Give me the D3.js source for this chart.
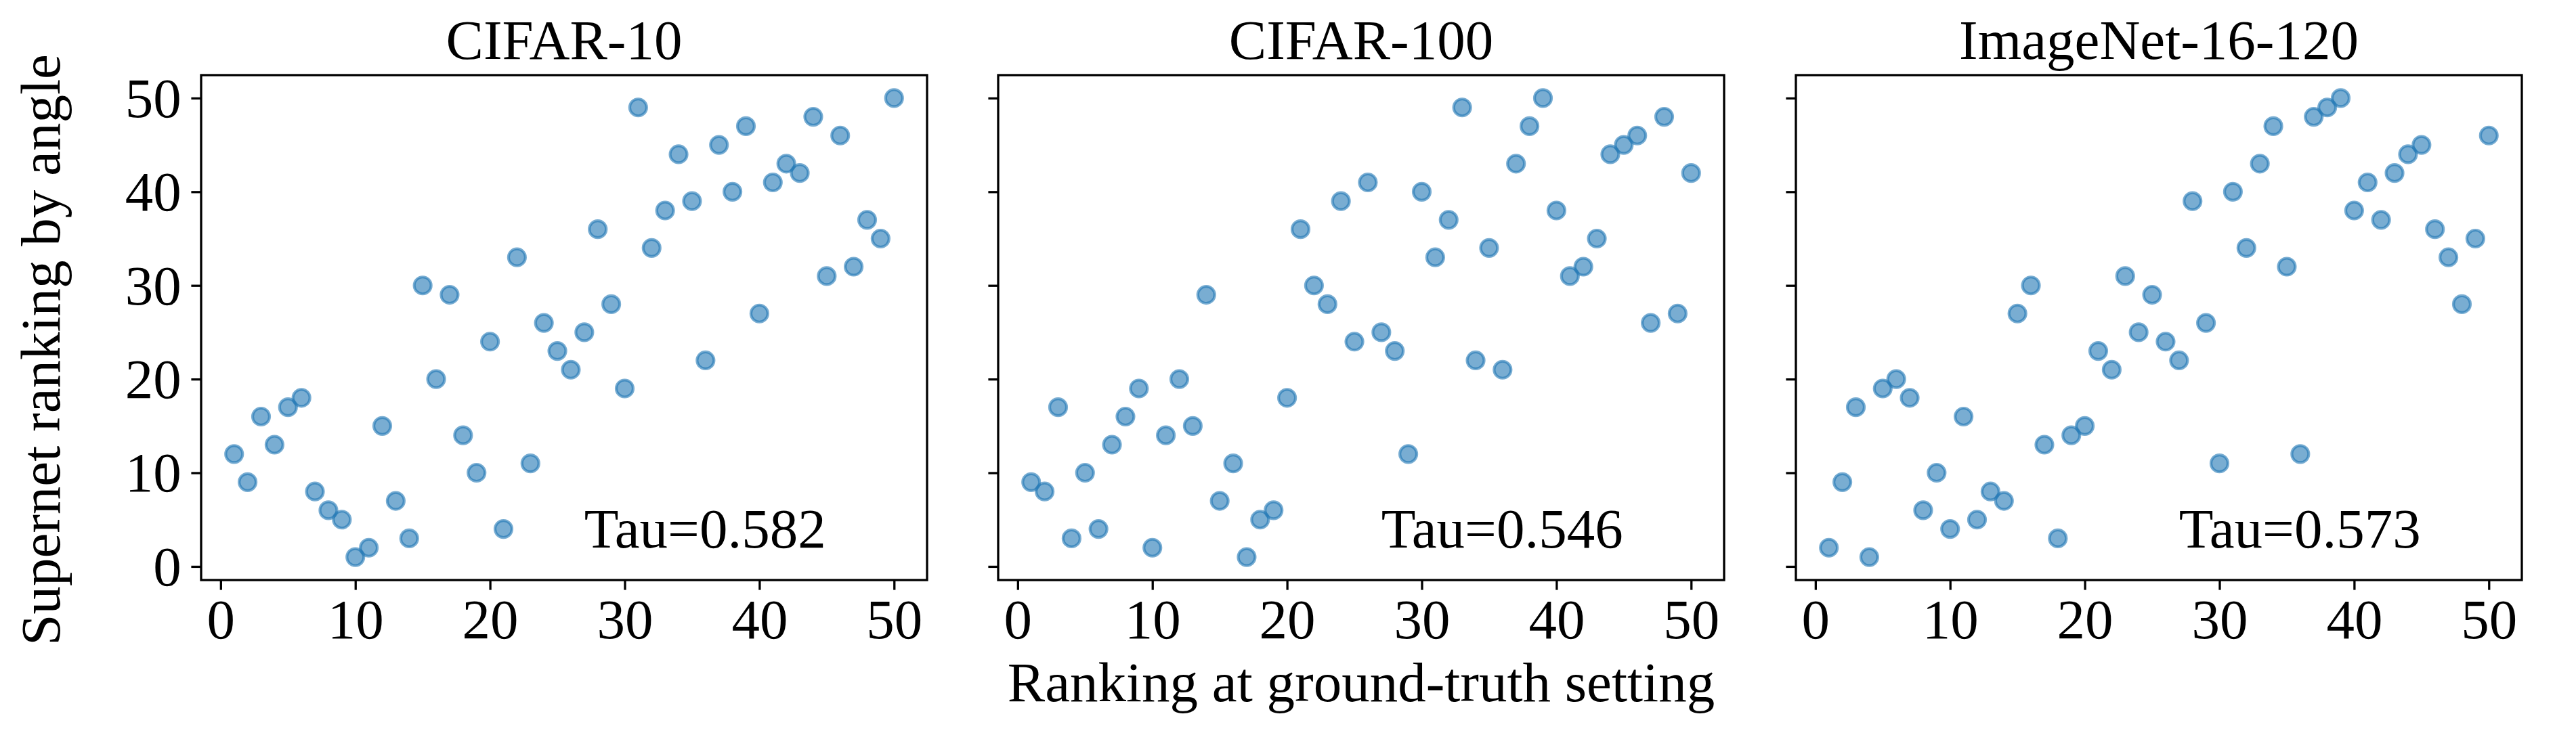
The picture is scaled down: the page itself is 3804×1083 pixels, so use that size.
<!DOCTYPE html>
<html>
<head>
<meta charset="utf-8">
<script src="https://cdn.jsdelivr.net/npm/d3@7"></script>
<style>
  body { margin: 0; background: #fff; }
  text { font-family: "Liberation Serif", "Times New Roman", serif; fill: #000; }
</style>
</head>
<body>
<div id="plotRegi"></div>
<script>
// ground-truth ranking (x) shared by every panel
var gtRank = [1, 2, 3, 4, 5, 6, 7, 8, 9, 10, 11, 12, 13, 14, 15, 16, 17, 18, 19, 20,
              21, 22, 23, 24, 25, 26, 27, 28, 29, 30, 31, 32, 33, 34, 35, 36, 37, 38, 39, 40,
              41, 42, 43, 44, 45, 46, 47, 48, 49, 50]

// supernet ranking by angle (y), one list per dataset
var cifar10Rank = [12, 9, 16, 13, 17, 18, 8, 6, 5, 1, 2, 15, 7, 3, 30, 20, 29, 14, 10, 24,
                   4, 33, 11, 26, 23, 21, 25, 36, 28, 19, 49, 34, 38, 44, 39, 22, 45, 40, 47, 27,
                   41, 43, 42, 48, 31, 46, 32, 37, 35, 50]
var cifar100Rank = [9, 8, 17, 3, 10, 4, 13, 16, 19, 2, 14, 20, 15, 29, 7, 11, 1, 5, 6, 18,
                    36, 30, 28, 39, 24, 41, 25, 23, 12, 40, 33, 37, 49, 22, 34, 21, 43, 47, 50, 38,
                    31, 32, 35, 44, 45, 46, 26, 48, 27, 42]
var imagenetRank = [2, 9, 17, 1, 19, 20, 18, 6, 10, 4, 16, 5, 8, 7, 27, 30, 13, 3, 14, 15,
                    23, 21, 31, 25, 29, 24, 22, 39, 26, 11, 40, 34, 43, 47, 32, 12, 48, 49, 50, 38,
                    41, 37, 42, 44, 45, 36, 33, 28, 35, 46]

var titles = ["CIFAR-10", "CIFAR-100", "ImageNet-16-120"]
var taus = ["Tau=0.582", "Tau=0.546", "Tau=0.573"]
var tickVals = [0, 10, 20, 30, 40, 50]

var panels = [cifar10Rank, cifar100Rank, imagenetRank]

var W = 3804, H = 1083
var fontSize = 83
var panelLeft = [297, 1474, 2652],
    panelW = 1072,
    plotTop = 111,
    plotBottom = 857
var tickLen = 14.6, spineW = 3.3
var serif = '"Liberation Serif", "Times New Roman", serif'

var svg = d3.select("#plotRegi")
    .append("svg")
    .attr("width", W)
    .attr("height", H)

svg.append("rect").attr("width", W).attr("height", H).attr("fill", "#fff")

panels.forEach(function (ys, p) {
    var x0 = panelLeft[p]

    var scale_x = d3.scaleLinear().domain([-1.45, 52.45]).range([x0, x0 + panelW])
    var scale_y = d3.scaleLinear().domain([-1.45, 52.45]).range([plotBottom, plotTop])

    var g = svg.append("g").attr("id", "panel" + p)

    // x axis
    var ax = g.append("g")
        .attr("transform", "translate(0," + plotBottom + ")")
        .call(d3.axisBottom(scale_x).tickValues(tickVals).tickSize(tickLen).tickSizeOuter(0))
    ax.select(".domain").remove()
    ax.selectAll(".tick line").attr("stroke", "#000").attr("stroke-width", spineW)
    ax.selectAll(".tick text")
        .attr("y", 86)
        .attr("dy", 0)
        .attr("fill", "#000")
        .style("font-size", fontSize + "px")
        .style("font-family", serif)

    // y axis (labels only on first panel)
    var ay = g.append("g")
        .attr("transform", "translate(" + x0 + ",0)")
        .call(d3.axisLeft(scale_y).tickValues(tickVals).tickSize(tickLen).tickSizeOuter(0))
    ay.select(".domain").remove()
    ay.selectAll(".tick line").attr("stroke", "#000").attr("stroke-width", spineW)
    ay.selectAll(".tick text")
        .attr("x", -2 * tickLen)
        .attr("dy", "0.33em")
        .attr("fill", "#000")
        .style("font-size", fontSize + "px")
        .style("font-family", serif)
    if (p > 0) ay.selectAll(".tick text").remove()

    // points
    g.append("g")
        .selectAll("circle")
        .data(gtRank.map(function (d, i) { return { x: d, y: ys[i] } }))
        .enter()
        .append("circle")
        .attr("cx", d => scale_x(d.x))
        .attr("cy", d => scale_y(d.y))
        .attr("r", 12.5)
        .attr("fill", "#1f77b4")
        .attr("fill-opacity", 0.6)
        .attr("stroke", "#1f77b4")
        .attr("stroke-opacity", 0.6)
        .attr("stroke-width", 4.17)

    // spines
    g.append("rect")
        .attr("x", x0)
        .attr("y", plotTop)
        .attr("width", panelW)
        .attr("height", plotBottom - plotTop)
        .attr("fill", "none")
        .attr("stroke", "#000")
        .attr("stroke-width", spineW)

    // title
    g.append("text")
        .attr("x", x0 + panelW / 2)
        .attr("y", 87)
        .attr("text-anchor", "middle")
        .style("font-size", fontSize + "px")
        .text(titles[p])

    // tau annotation
    g.append("text")
        .attr("x", scale_x(27))
        .attr("y", scale_y(2))
        .style("font-size", fontSize + "px")
        .text(taus[p])
})

// shared axis labels
svg.append("text")
    .attr("x", panelLeft[1] + panelW / 2)
    .attr("y", 1036)
    .attr("text-anchor", "middle")
    .style("font-size", fontSize + "px")
    .text("Ranking at ground-truth setting")

svg.append("text")
    .attr("transform", "translate(88,517) rotate(-90)")
    .attr("text-anchor", "middle")
    .style("font-size", fontSize + "px")
    .text("Supernet ranking by angle")
</script>
</body>
</html>
